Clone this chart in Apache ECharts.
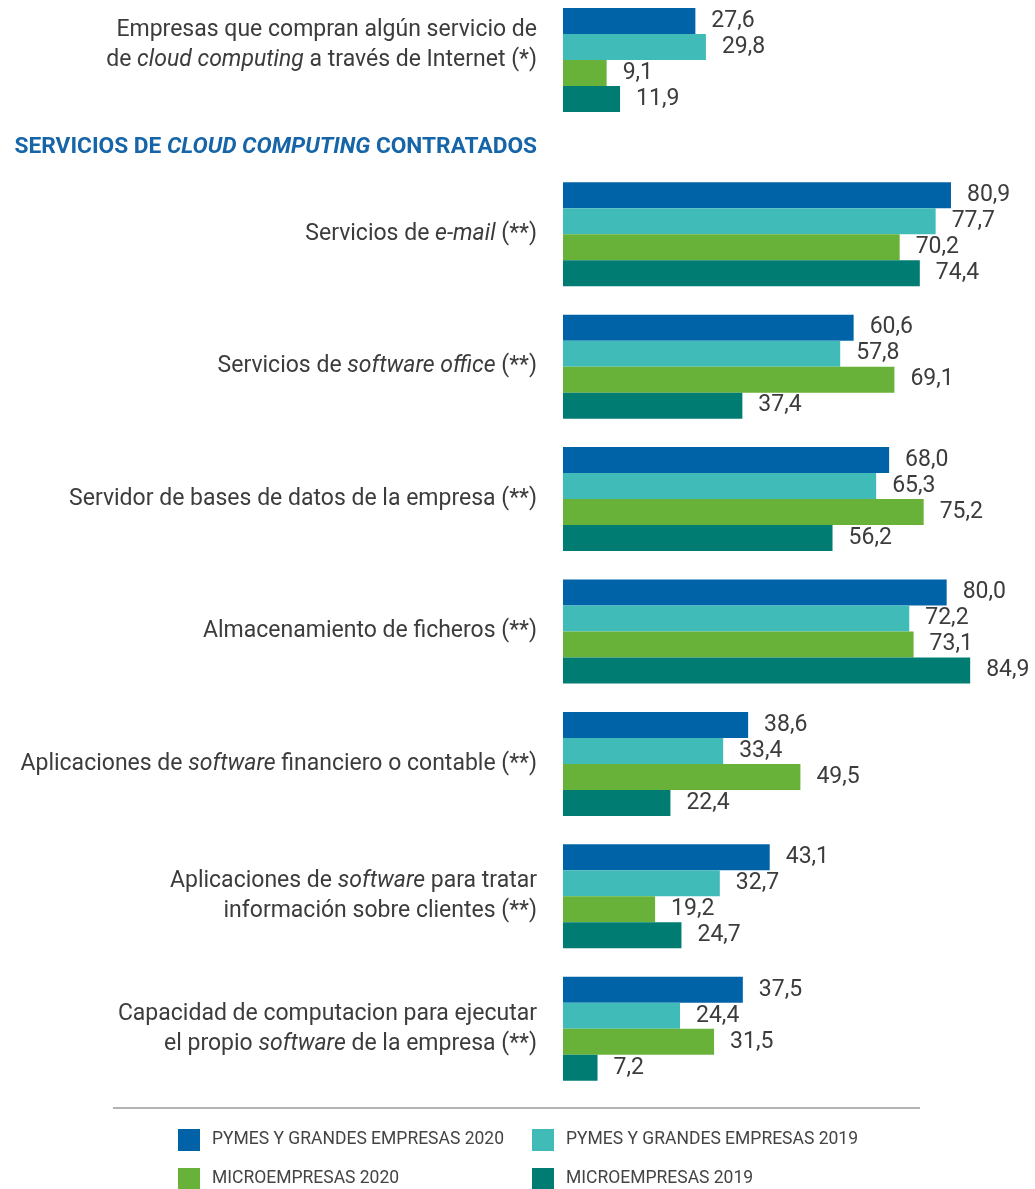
<!DOCTYPE html>
<html>
<head>
<meta charset="utf-8">
<script src="https://cdn.jsdelivr.net/npm/echarts@6/dist/echarts.min.js"></script>
<style>
  html, body { margin: 0; padding: 0; background: #fff; }
  #chart { width: 1035px; height: 1189px; }
</style>
</head>
<body>
<div id="chart"></div>
<script>
// categorías (con marcas de cursiva {i|...})
const categories = [
  'Empresas que compran algún servicio de\nde {i|cloud computing} a través de Internet (*)',
  'Servicios de {i|e-mail} (**)',
  'Servicios de {i|software office} (**)',
  'Servidor de bases de datos de la empresa (**)',
  'Almacenamiento de ficheros (**)',
  'Aplicaciones de {i|software} financiero o contable (**)',
  'Aplicaciones de {i|software} para tratar\ninformación sobre clientes (**)',
  'Capacidad de computacion para ejecutar\nel propio {i|software} de la empresa (**)'
];

const seriesNames = [
  'PYMES Y GRANDES EMPRESAS 2020',
  'PYMES Y GRANDES EMPRESAS 2019',
  'MICROEMPRESAS 2020',
  'MICROEMPRESAS 2019'
];

const pymes2020 = [27.6, 80.9, 60.6, 68.0, 80.0, 38.6, 43.1, 37.5];
const pymes2019 = [29.8, 77.7, 57.8, 65.3, 72.2, 33.4, 32.7, 24.4];
const micro2020 = [9.1, 70.2, 69.1, 75.2, 73.1, 49.5, 19.2, 31.5];
const micro2019 = [11.9, 74.4, 37.4, 56.2, 84.9, 22.4, 24.7, 7.2];

const colors = ['#0063a8', '#40bbb8', '#68b23a', '#007c72'];
const FONT = 'Roboto';
const TEXT = '#3c3c3c';

const chart = echarts.init(document.getElementById('chart'));

const allData = [pymes2020, pymes2019, micro2020, micro2019];

function catLabel() {
  return {
    fontFamily: FONT,
    fontSize: 23,
    color: TEXT,
    margin: 26,
    lineHeight: 30,
    align: 'right',
    rich: {
      i: { fontFamily: FONT, fontSize: 23, fontStyle: 'italic', color: TEXT, lineHeight: 30 }
    }
  };
}

const series = [];
[0, 1].forEach(function (g) {
  allData.forEach(function (arr, k) {
    series.push({
      name: seriesNames[k],
      type: 'bar',
      xAxisIndex: g,
      yAxisIndex: g,
      barWidth: 26,
      barGap: '0%',
      itemStyle: { color: colors[k] },
      label: {
        show: true,
        position: 'right',
        distance: 16,
        fontFamily: FONT,
        fontSize: 23,
        color: TEXT,
        formatter: function (p) { return p.value.toFixed(1).replace('.', ','); }
      },
      data: g === 0 ? arr.slice(0, 1) : arr.slice(1)
    });
  });
});

const xAxisBase = {
  type: 'value', min: 0, max: 98, show: false
};

// una leyenda por elemento (dos columnas, dos filas)
const legendPos = [[178, 1129], [532, 1129], [178, 1168], [532, 1168]];
const legends = seriesNames.map(function (name, k) {
  return {
    left: legendPos[k][0], top: legendPos[k][1], padding: 0,
    itemWidth: 22, itemHeight: 22, icon: 'rect',
    data: [name],
    textStyle: { fontFamily: FONT, fontSize: 17.5, color: '#444', padding: [0, 0, 0, 7] }
  };
});

chart.setOption({
  animation: false,
  grid: [
    { left: 563, width: 470, top: 0, height: 120 },
    { left: 563, width: 470, top: 168, height: 927 }
  ],
  xAxis: [
    Object.assign({ gridIndex: 0 }, xAxisBase),
    Object.assign({ gridIndex: 1 }, xAxisBase)
  ],
  yAxis: [
    {
      gridIndex: 0, type: 'category', inverse: true,
      data: [{ value: categories[0], textStyle: { padding: [0, 0, 30, 0] } }],
      axisLine: { show: false }, axisTick: { show: false },
      axisLabel: catLabel()
    },
    {
      gridIndex: 1, type: 'category', inverse: true,
      data: categories.slice(1),
      axisLine: { show: false }, axisTick: { show: false },
      axisLabel: catLabel()
    }
  ],
  legend: legends,
  graphic: [
    {
      type: 'line',
      shape: { x1: 113, y1: 1108, x2: 920, y2: 1108 },
      style: { stroke: '#b3b3b3', lineWidth: 2 }
    },
    {
      type: 'text',
      x: 537, y: 147,
      style: {
        text: 'SERVICIOS DE {i|CLOUD COMPUTING} CONTRATADOS',
        align: 'right', verticalAlign: 'middle',
        fontFamily: FONT, fontSize: 22.7, fontWeight: 'bold', fill: '#1565a8',
        rich: {
          i: { fontFamily: FONT, fontSize: 22.7, fontWeight: 'bold', fontStyle: 'italic', fill: '#1565a8' }
        }
      }
    }
  ],
  series: series
});
</script>
</body>
</html>
